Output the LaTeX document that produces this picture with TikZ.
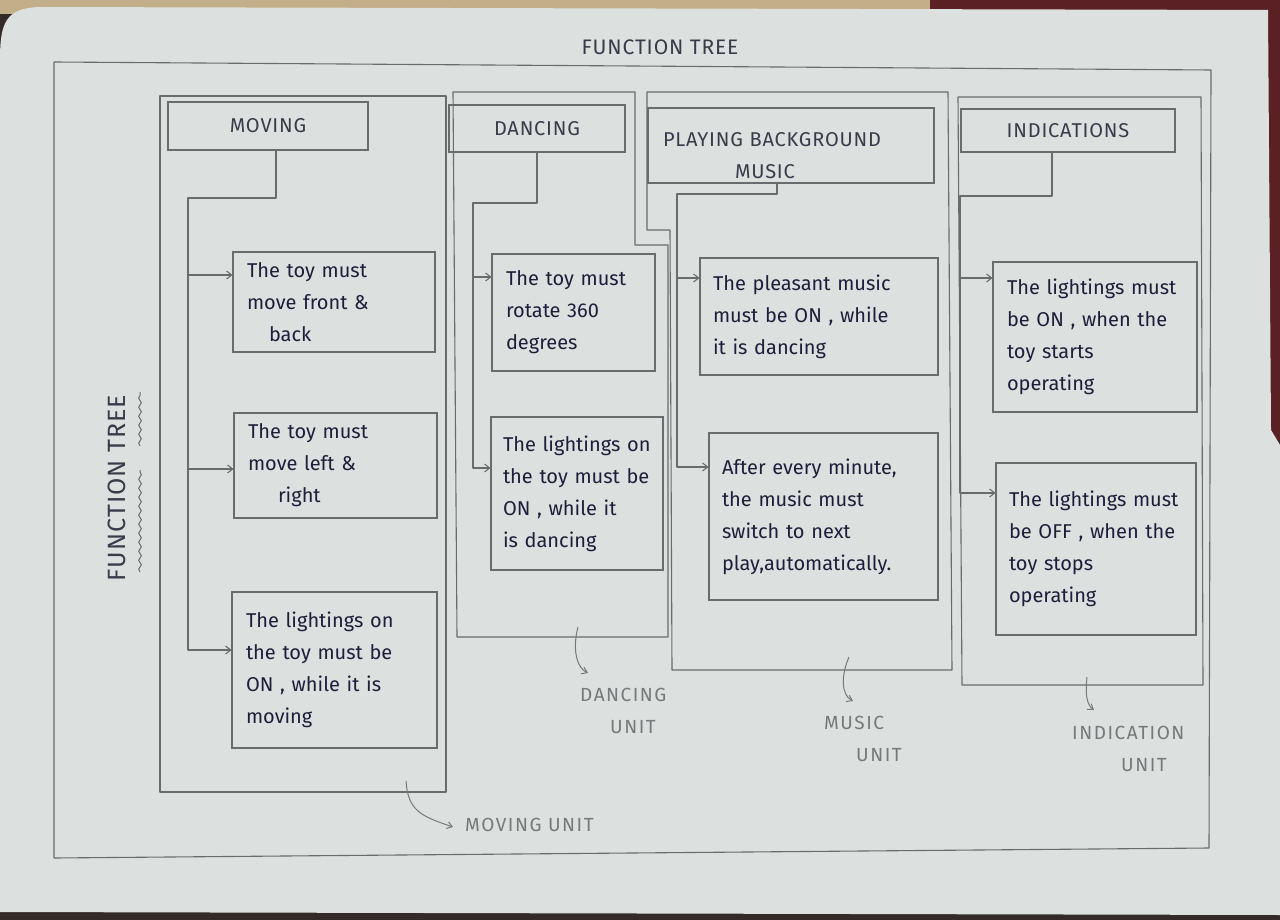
\documentclass[tikz,border=0pt]{standalone}
\usepackage{fontspec}
\setmainfont{Fira Sans}
\newfontfamily\capsfont[LetterSpace=4]{Fira Sans}
\newfontfamily\labelfont[LetterSpace=8]{Fira Sans}
\usetikzlibrary{arrows.meta,decorations.pathmorphing}

\definecolor{paper}{HTML}{DCE1E0}
\definecolor{pencil}{HTML}{6A6B6D}
\definecolor{ink}{HTML}{1F1D3A}
\definecolor{lead}{HTML}{3A3B4A}
\definecolor{faint}{HTML}{76787A}
\definecolor{desk}{HTML}{342B28}
\definecolor{cloth}{HTML}{5B2024}
\definecolor{wood}{HTML}{C2AE88}

\tikzset{
  frame/.style={draw=pencil, line width=1.1pt, line join=round},
  hdr/.style={draw=pencil, line width=1.1pt, text=lead,
    font=\capsfont\fontsize{20}{32}\selectfont, align=center, inner sep=0pt},
  req/.style={draw=pencil, line width=1.1pt, text=ink,
    font=\fontsize{20}{32}\selectfont, align=left, inner xsep=14pt, inner ysep=0pt},
  conn/.style={draw=pencil, line width=1.1pt, line join=round,
    -{Straight Barb[length=5pt,width=8pt]}},
  unitarr/.style={draw=faint, line width=1pt,
    -{Straight Barb[length=5pt,width=7pt]}},
  unitlbl/.style={text=faint, font=\labelfont\fontsize{19}{32}\selectfont,
    align=left, inner sep=0pt, anchor=north west},
  wavy/.style={draw=pencil, line width=1pt, decorate,
    decoration={snake, amplitude=1.3pt, segment length=9pt}},
}

\begin{document}
\begin{tikzpicture}[x=1pt, y=-1pt]
\useasboundingbox (0,0) rectangle (1280,920);

% desk, cloth and the sheet of paper
\fill[desk] (0,0) rectangle (1280,920);
\fill[wood] (0,0) rectangle (930,14);
\fill[cloth] (930,0) rectangle (1280,14);
\fill[cloth] (1262,0) rectangle (1280,440);
\fill[paper] (0,60) .. controls (0,22) and (6,8) .. (40,7) -- (1268,10)
  -- (1271,430) -- (1280,445) -- (1280,915) -- (0,912) -- cycle;

% title and outer frame
\node[text=lead, font=\capsfont\fontsize{21}{24}\selectfont] (title) at (660,47) {FUNCTION TREE};
\draw[frame] (54,62) -- (1211,70) -- (1209,848) -- (54,858) -- cycle;

% side title with wavy underline
\node[rotate=90, text=lead, font=\capsfont\fontsize{25}{28}\selectfont] (side) at (117,488) {FUNCTION TREE};
\draw[wavy] (140,572) -- (140,470);
\draw[wavy] (140,446) -- (140,392);

% unit frames
\draw[frame] (160,96) -- (446,96) -- (446,792) -- (160,792) -- cycle;
\draw[frame] (453,92) -- (635,92) -- (635,245) -- (668,245) -- (668,637) -- (457,637) -- cycle;
\draw[frame] (647,92) -- (948,92) -- (952,670) -- (672,670) -- (670,230) -- (647,230) -- cycle;
\draw[frame] (958,97) -- (1201,97) -- (1203,685) -- (962,685) -- cycle;

% function headers
\node[hdr, minimum width=200pt, minimum height=48pt] (mh) at (268,126) {MOVING};
\node[hdr, minimum width=176pt, minimum height=47pt] (dh) at (537,128.5) {DANCING};
\node[hdr, minimum width=286pt, minimum height=75pt, align=left, text width=256pt,
  inner xsep=15pt] (ph) at (791,145.5)
  {\rule{0pt}{34pt}PLAYING BACKGROUND\\\hspace*{72pt}MUSIC};
\node[hdr, minimum width=214pt, minimum height=43pt] (ih) at (1068,130.5) {INDICATIONS};

% requirements: moving
\node[req, minimum width=202pt, minimum height=100pt, text width=174pt] (mb1) at (334,302)
  {The toy must\\move front \&\\\hspace*{22pt}back};
\node[req, minimum width=203pt, minimum height=105pt, text width=175pt] (mb2) at (335.5,465.5)
  {The toy must\\move left \&\\\hspace*{30pt}right};
\node[req, minimum width=205pt, minimum height=156pt, text width=177pt] (mb3) at (334.5,670)
  {The lightings on\\the toy must be\\ON , while it is\\moving};

% requirements: dancing
\node[req, minimum width=163pt, minimum height=117pt, text width=135pt] (db1) at (573.5,312.5)
  {The toy must\\rotate 360\\degrees};
\node[req, minimum width=172pt, minimum height=153pt, text width=148pt, inner xsep=12pt] (db2) at (577,493.5)
  {\mbox{The lightings on}\\\mbox{the toy must be}\\ON , while it\\is dancing};

% requirements: music
\node[req, minimum width=238pt, minimum height=117pt, text width=212pt, inner xsep=13pt] (pb1) at (819,316.5)
  {The pleasant music\\must be ON , while\\it is dancing};
\node[req, minimum width=229pt, minimum height=167pt, text width=203pt, inner xsep=13pt] (pb2) at (823.5,516.5)
  {After every minute,\\the music must\\switch to next\\play,automatically.};

% requirements: indications
\node[req, minimum width=204pt, minimum height=150pt, text width=176pt] (ib1) at (1095,337)
  {\mbox{The lightings must}\\\mbox{be ON , when the}\\toy starts\\operating};
\node[req, minimum width=200pt, minimum height=172pt, text width=174pt, inner xsep=13pt] (ib2) at (1096,549)
  {\mbox{The lightings must}\\\mbox{be OFF , when the}\\toy stops\\operating};

% branch corners and arrow targets
\coordinate (mt) at (188,198);
\coordinate (dt) at (473,203);
\coordinate (pt) at (677,194);
\coordinate (it) at (960,196);
\coordinate (mb1a) at ([yshift=27pt]mb1.west);
\coordinate (mb2a) at ([yshift=-3.5pt]mb2.west);
\coordinate (mb3a) at ([yshift=20pt]mb3.west);
\coordinate (db1a) at ([yshift=35.5pt]db1.west);
\coordinate (db2a) at ([yshift=25.5pt]db2.west);
\coordinate (pb1a) at ([yshift=38.5pt]pb1.west);
\coordinate (pb2a) at ([yshift=49.5pt]pb2.west);
\coordinate (ib1a) at ([yshift=59pt]ib1.west);
\coordinate (ib2a) at ([yshift=56pt]ib2.west);

% branches
\draw[conn] ([xshift=8pt]mh.south) |- (mt) |- (mb3a);
\draw[conn] (mt |- mb1a) -- (mb1a);
\draw[conn] (mt |- mb2a) -- (mb2a);

\draw[conn] (dh.south) |- (dt) |- (db2a);
\draw[conn] (dt |- db1a) -- (db1a);

\draw[conn] ([xshift=-14pt]ph.south) |- (pt) |- (pb2a);
\draw[conn] (pt |- pb1a) -- (pb1a);

\draw[conn] ([xshift=-16pt]ih.south) |- (it) |- (ib2a);
\draw[conn] (it |- ib1a) -- (ib1a);

% unit labels
\node[unitlbl] (mu) at (465,818) {MOVING UNIT};
\node[unitlbl] (du) at (580,688) {DANCING\\\hspace*{30pt}UNIT};
\node[unitlbl] (pu) at (824,716) {MUSIC\\\hspace*{32pt}UNIT};
\node[unitlbl] (iu) at (1072,726) {INDICATION\\\hspace*{49pt}UNIT};

\coordinate (mfoot) at (406,781);
\coordinate (dfoot) at (578,627);
\coordinate (pfoot) at (849,657);
\coordinate (ifoot) at (1087,677);
\draw[unitarr] (mfoot) .. controls (408,810) and (420,816) .. ([xshift=-12pt,yshift=-2pt]mu.west);
\draw[unitarr] (dfoot) .. controls (572,650) and (577,668) .. (588,673);
\draw[unitarr] (pfoot) .. controls (841,675) and (841,695) .. (853,701);
\draw[unitarr] (ifoot) .. controls (1085,695) and (1087,705) .. (1094,710);
\end{tikzpicture}
\end{document}
